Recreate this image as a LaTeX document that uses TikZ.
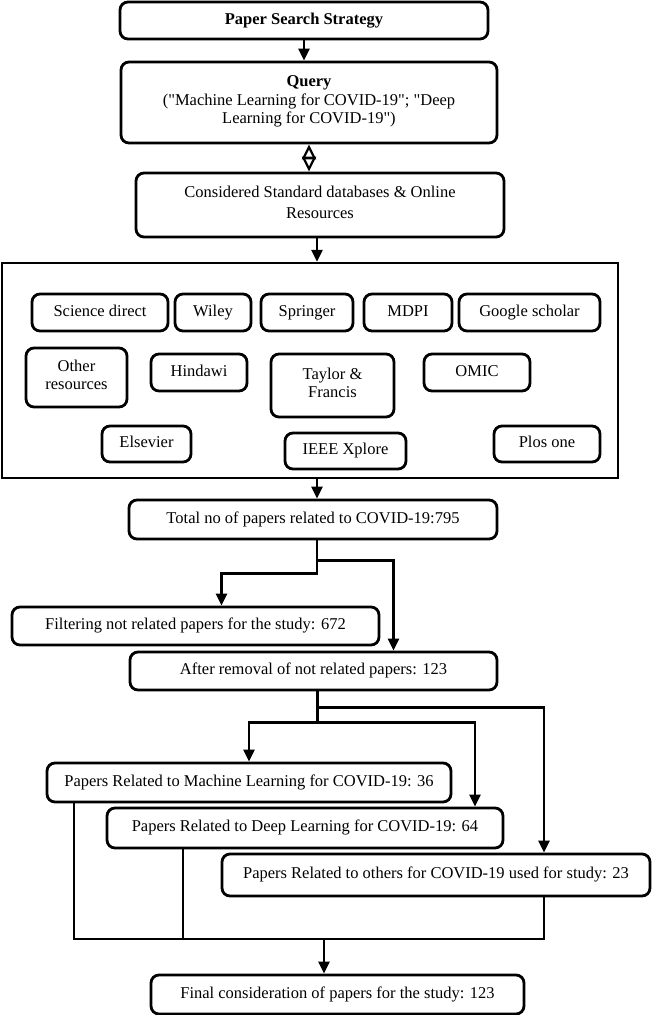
\documentclass[tikz,border=0pt]{standalone}
\usepackage{fontspec}
\setmainfont{Liberation Serif}
\usetikzlibrary{arrows.meta}
\tikzset{
	box/.style={draw, line width=2.8pt, rounded corners=8pt, align=center, inner sep=2pt, font=\fontsize{16.5}{18.5}\selectfont, execute at begin node=\strut},
	arr/.style={line width=2.8pt, -{Triangle[length=12pt,width=11pt]}},
	line/.style={line width=2.8pt},
	dbl/.style={line width=2.2pt, {Triangle[open,length=15pt,width=14pt]}-{Triangle[open,length=15pt,width=14pt]}}
}

\begin{document}
\begin{tikzpicture}[x=1pt,y=-1pt]
				%%%%% START %%%%%
				\useasboundingbox (0,0) rectangle (652,1015);
				
				\node[box, minimum width=368, minimum height=37] (search) at (304,20.5) {\textbf{Paper Search Strategy}};
				\node[box, minimum width=376, minimum height=81] (query) at (309,102.5) {\textbf{Query}\\(\textquotedbl Machine Learning for COVID-19\textquotedbl; \textquotedbl Deep\\Learning for COVID-19\textquotedbl)};
				\node[box, minimum width=368, minimum height=64] (dbase) at (320,205) {Considered Standard databases \& Online\\[3pt]Resources};
				
				\node[draw, line width=2.5pt, minimum width=616, minimum height=215] (sources) at (310,370.5) {};
				
				\node[box, minimum width=136, minimum height=37] (scidir) at (100,312.5) {Science direct};
				\node[box, minimum width=76, minimum height=37] (wiley) at (213,312.5) {Wiley};
				\node[box, minimum width=92, minimum height=37] (springer) at (307,312.5) {Springer};
				\node[box, minimum width=88, minimum height=37] (mdpi) at (408,312.5) {MDPI};
				\node[box, minimum width=141, minimum height=37] (gscholar) at (529.5,312.5) {Google scholar};
				
				\node[box, minimum width=101, minimum height=59] (other) at (76.5,377.5) {Other\\resources};
				\node[box, minimum width=96, minimum height=37] (hindawi) at (199,372.5) {Hindawi};
				\node[box, minimum width=123, minimum height=63] (taylor) at (332.5,385.5) {Taylor \&\\Francis};
				\node[box, minimum width=106, minimum height=37] (omic) at (477,372.5) {OMIC};
				
				\node[box, minimum width=89, minimum height=36] (elsevier) at (146.5,444) {Elsevier};
				\node[box, minimum width=121, minimum height=36] (ieee) at (345.5,451) {IEEE Xplore};
				\node[box, minimum width=106, minimum height=36] (plos) at (547,444) {Plos one};
				
				\node[box, minimum width=368, minimum height=39] (total) at (313,519.5) {Total no of papers related to COVID-19:795};
				\node[box, minimum width=367, minimum height=38] (filter) at (195.5,626) {Filtering not related papers for the study: 672};
				\node[box, minimum width=367, minimum height=38] (after) at (313.5,671) {After removal of not related papers: 123};
				
				\node[box, minimum width=404, minimum height=39] (ml) at (249,782.5) {Papers Related to Machine Learning for COVID-19: 36};
				\node[box, minimum width=396, minimum height=40] (dl) at (305,828) {Papers Related to Deep Learning for COVID-19: 64};
				\node[box, minimum width=428, minimum height=42] (others) at (436,875) {Papers Related to others for COVID-19 used for study: 23};
				
				\node[box, minimum width=373, minimum height=39] (final) at (337.5,994.5) {Final consideration of papers for the study: 123};
				
				% connectors
				\draw[arr] (search.south) -- (search.south |- query.north);
				\draw[dbl] (query.south) -- (query.south |- dbase.north);
				\draw[arr] ([xshift=-3]dbase.south) -- ([xshift=-3]dbase.south |- sources.north);
				\draw[arr] ([xshift=4]total.north |- sources.south) -- ([xshift=4]total.north);
				
				\draw[arr] ([xshift=4]total.south) -- ++(0,33) -| ([xshift=26]filter.north);
				\draw[arr] ([xshift=4,yshift=-20]total.south) -| ([xshift=80]after.north);
				
				\draw[arr] ([xshift=4]after.south) -- ++(0,31) -| (ml.north);
				\draw[arr] ([xshift=4,yshift=-31]after.south) -| ([xshift=170]dl.north);
				\draw[arr] ([xshift=4,yshift=-16]after.south) -| ([xshift=108]others.north);
				
				\coordinate (merge) at (324,939);
				\draw[line] ([xshift=-175]ml.south) |- (merge) -| ([xshift=108]others.south);
				\draw[line] ([xshift=-122]dl.south) -- ([xshift=-122]dl.south |- merge);
				\draw[arr] (merge) -- (merge |- final.north);
				%%%%% END %%%%%
\end{tikzpicture}
\end{document}
